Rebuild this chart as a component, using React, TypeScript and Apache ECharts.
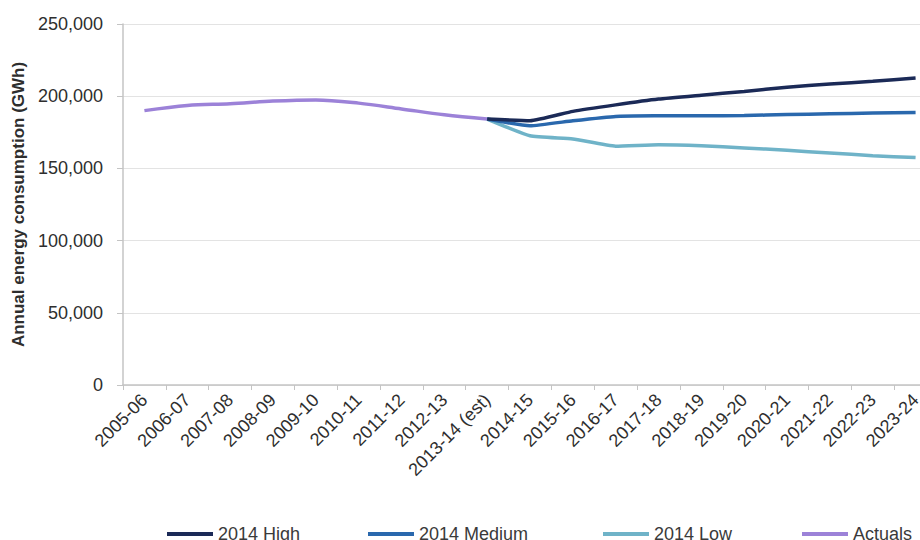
import React, { useEffect, useRef } from "react";
import * as echarts from "echarts";

const categories = [
  "2005-06", "2006-07", "2007-08", "2008-09", "2009-10", "2010-11", "2011-12",
  "2012-13", "2013-14 (est)", "2014-15", "2015-16", "2016-17", "2017-18",
  "2018-19", "2019-20", "2020-21", "2021-22", "2022-23", "2023-24",
];

const actuals = [190000, 193600, 194800, 196600, 197400, 195200, 191200, 187100, 184200,
  null, null, null, null, null, null, null, null, null, null];
const high = [null, null, null, null, null, null, null, null, 184200,
  183000, 189500, 194000, 198000, 200700, 203300, 206200, 208400, 210300, 212600];
const medium = [null, null, null, null, null, null, null, null, 184200,
  179500, 183000, 186000, 186400, 186500, 186600, 187300, 187800, 188300, 188700];
const low = [null, null, null, null, null, null, null, null, 184200,
  172600, 170400, 165400, 166400, 165700, 164200, 162500, 160700, 158800, 157500];

const yTicks = [0, 50000, 100000, 150000, 200000, 250000];

const seriesNames = ["2014 High", "2014 Medium", "2014 Low", "Actuals"];
const seriesColors = ["#1b2a57", "#2a68ad", "#6fb3c8", "#9c82d8"];
const legendLefts = [167, 368, 603, 802];

export default function App() {
  const ref = useRef<HTMLDivElement>(null);
  useEffect(() => {
    if (!ref.current) return;
    const chart = echarts.init(ref.current, null, { renderer: "svg" });
    const font = "'Liberation Sans', Arial, sans-serif";
    const dataSets = [high, medium, low, actuals];
    chart.setOption({
      animation: false,
      textStyle: { fontFamily: font },
      grid: { left: 123, top: 24, right: 23, bottom: 155, containLabel: false },
      legend: seriesNames.map((n, i) => ({
        data: [n],
        left: legendLefts[i],
        top: 525,
        padding: 0,
        icon: "rect",
        itemWidth: 46,
        itemHeight: 4,
        textStyle: { fontSize: 18, color: "#3a3a3a", fontFamily: font, lineHeight: 18 },
      })),
      xAxis: {
        type: "category",
        data: categories,
        boundaryGap: true,
        axisLine: { lineStyle: { color: "#c4c4c4", width: 1.5 } },
        axisTick: { show: true, length: 5, lineStyle: { color: "#c4c4c4" } },
        axisLabel: { rotate: 45, fontSize: 18, color: "#2e2e2e", margin: 12, interval: 0 },
      },
      yAxis: {
        type: "value",
        min: yTicks[0],
        max: yTicks[yTicks.length - 1],
        interval: 50000,
        name: "Annual energy consumption (GWh)",
        nameLocation: "middle",
        nameGap: 87,
        nameTextStyle: { fontSize: 17, fontWeight: "bold", color: "#2e2e2e" },
        axisLine: { show: true, lineStyle: { color: "#c4c4c4", width: 1.5 } },
        axisTick: { show: true, length: 6, lineStyle: { color: "#c4c4c4" } },
        splitLine: { lineStyle: { color: "#e3e3e3" } },
        axisLabel: {
          fontSize: 18,
          color: "#2e2e2e",
          margin: 20,
          formatter: (v: number) => v.toLocaleString("en-US"),
        },
      },
      series: seriesNames.map((n, i) => ({
        name: n,
        type: "line",
        data: dataSets[i],
        showSymbol: false,
        symbol: "none",
        smooth: i === 3 ? 0.35 : 0.15,
        connectNulls: false,
        lineStyle: { color: seriesColors[i], width: 3.5 },
        itemStyle: { color: seriesColors[i] },
        z: i === 3 ? 1 : 2 + (2 - i),
      })),
    });
    return () => chart.dispose();
  }, []);
  return (
    <div
      ref={ref}
      style={{ position: "fixed", left: 0, top: 0, width: 960, height: 540, background: "#fff" }}
    />
  );
}
